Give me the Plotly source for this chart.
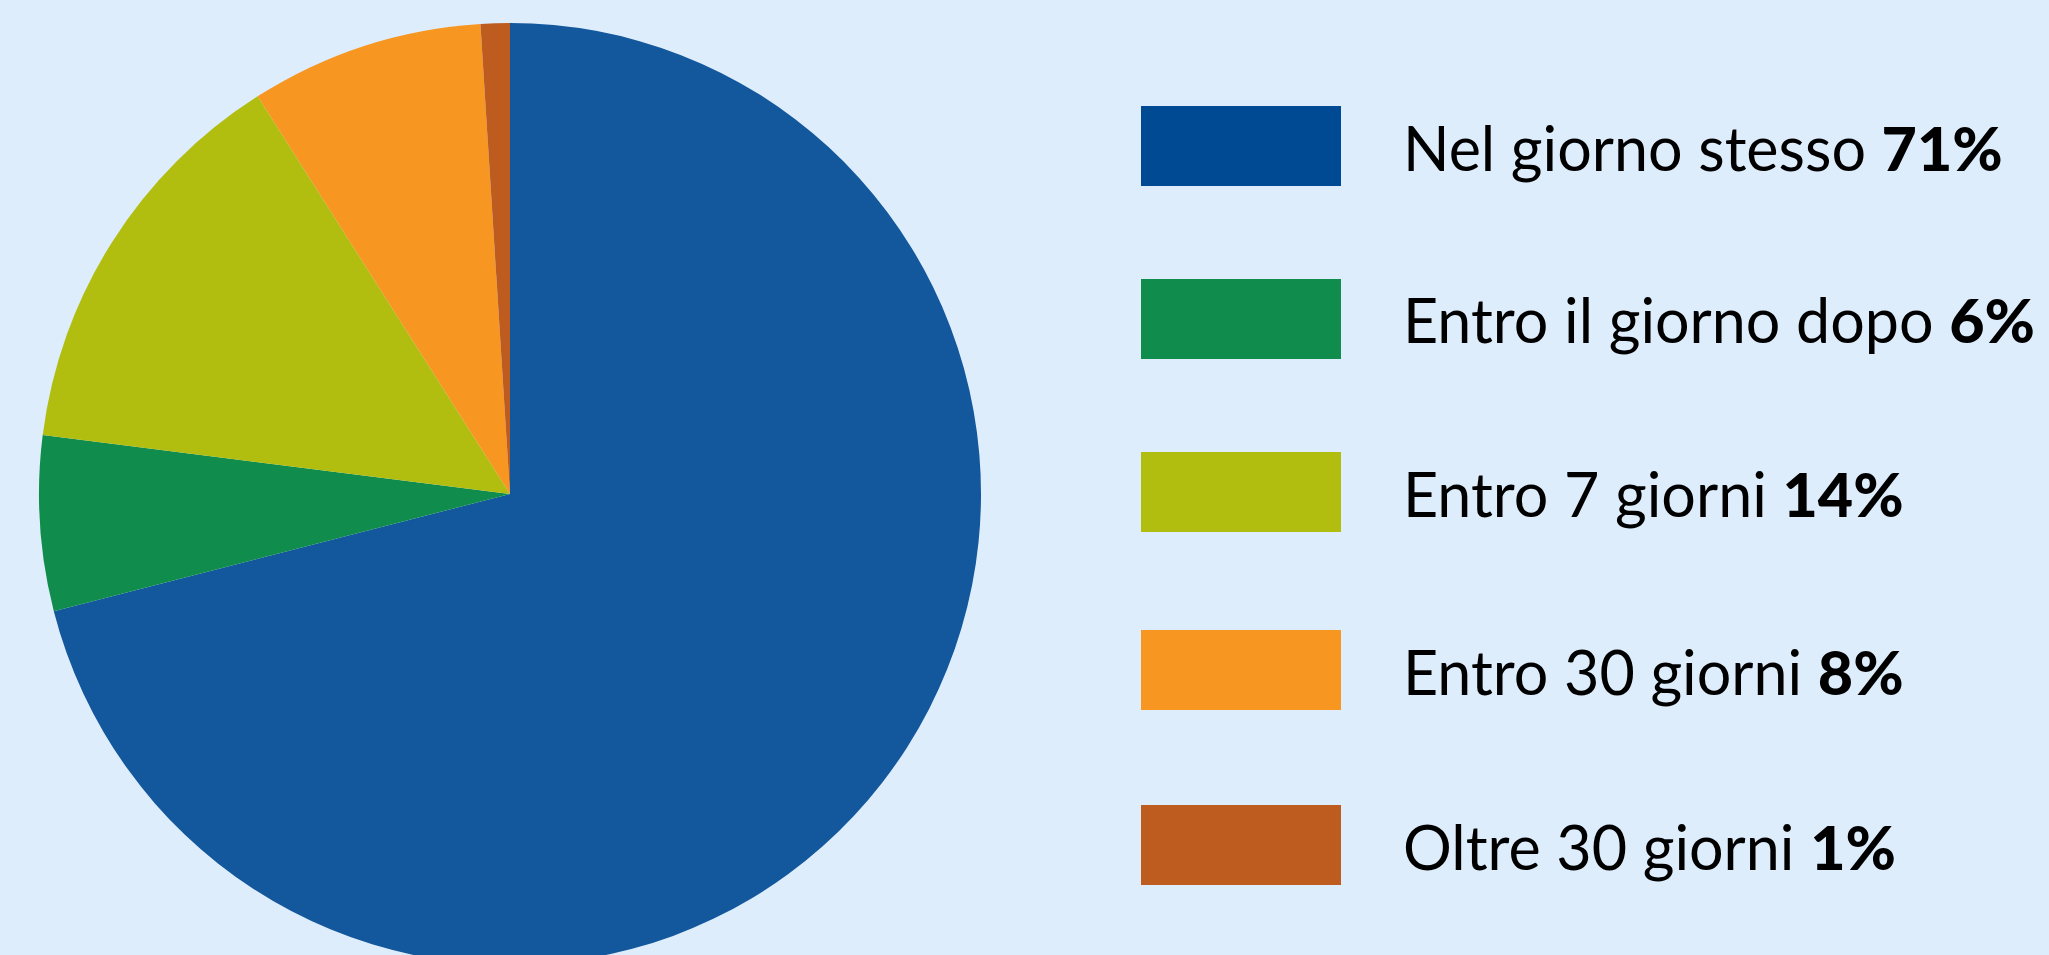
import plotly.graph_objects as go

# Data
labels = ["Nel giorno stesso", "Entro il giorno dopo", "Entro 7 giorni", "Entro 30 giorni", "Oltre 30 giorni"]
values = [71, 6, 14, 8, 1]
pie_colors = ["#13579C", "#108C4C", "#B1BE10", "#F79620", "#BE5C1F"]
legend_colors = ["#004A93", "#108C4C", "#B1BE10", "#F79620", "#BE5C1F"]

W, H = 2049, 988  # taller than the window; lower part is cut off like in the reference
BG = "#DEEDFC"

fig = go.Figure()
fig.add_trace(go.Pie(
    labels=labels,
    values=values,
    sort=False,
    direction="clockwise",
    rotation=0,
    marker=dict(colors=pie_colors, line=dict(width=0)),
    textinfo="none",
    showlegend=False,
    domain=dict(x=[39 / W, 981 / W], y=[0, 1]),
))

# Custom legend (rectangles + text)
row_centers = [146, 319, 492, 670, 845]
rect_x0, rect_x1, rect_h = 1141, 1341, 80
text_x = 1401
shapes = []
annotations = []
for lab, val, col, yc in zip(labels, values, legend_colors, row_centers):
    shapes.append(dict(
        type="rect", xref="paper", yref="paper",
        x0=rect_x0 / W, x1=rect_x1 / W,
        y0=1 - (yc + rect_h / 2) / H, y1=1 - (yc - rect_h / 2) / H,
        fillcolor=col, line=dict(width=0),
    ))
    annotations.append(dict(
        xref="paper", yref="paper",
        x=text_x / W, y=1 - (yc + 1) / H,
        xanchor="left", yanchor="middle",
        text=f"{lab} <span style=\"font-weight:900\">{val}%</span>",
        showarrow=False,
        font=dict(family="Lato", size=61, color="#000000"),
    ))

fig.update_layout(
    width=W, height=H,
    margin=dict(l=0, r=0, t=0, b=0),
    paper_bgcolor=BG,
    plot_bgcolor=BG,
    shapes=shapes,
    annotations=annotations,
)

fig.write_html(
    "out.html",
    config={"displayModeBar": False},
    post_script="document.body.style.margin='0';document.body.style.overflow='hidden';"
                "document.body.style.background='#DEEDFC';",
)
